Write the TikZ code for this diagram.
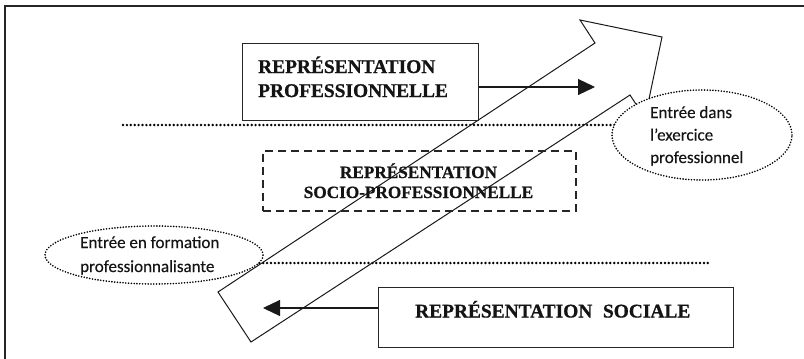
\documentclass[tikz,border=0pt]{standalone}
\usepackage{fontspec}
\setmainfont{Liberation Serif}[BoldFeatures={FakeBold=0.8}]
\newfontfamily\sansf{Carlito}[FakeBold=0.3]
\usetikzlibrary{shapes.geometric,arrows.meta,backgrounds}
\begin{document}
\begin{tikzpicture}[x=1pt,y=-1pt,
  frame/.style={line width=2.2pt,draw=black!85},
  solidbox/.style={draw=black!85,line width=1.4pt,rectangle,inner sep=0pt},
  dashbox/.style={draw=black!85,line width=1.7pt,dash pattern=on 8pt off 5pt,rectangle,inner sep=0pt},
  dotline/.style={draw=black,line width=2.7pt,line cap=round,dash pattern=on 0pt off 3.9pt},
  dotellipse/.style={ellipse,draw=black,line width=1.8pt,line cap=round,dash pattern=on 0pt off 2.8pt,fill=white,inner sep=0pt},
  bigtext/.style={font=\fontsize{19.4}{24}\selectfont\bfseries,text=black!92,inner sep=0pt},
  midtext/.style={font=\fontsize{17.2}{20}\selectfont\bfseries,text=black!92,inner sep=0pt},
  sanstext/.style={font=\sansf\fontsize{17}{22.5}\selectfont,text=black!92,inner sep=0pt},
  sanstextb/.style={sanstext,font=\sansf\fontsize{17}{24}\selectfont},
  conn/.style={draw=black!90,line width=1.2pt,-{Triangle[length=17pt,width=16pt]}},
  bigarrow/.style={draw=black!90,line width=1pt,line join=miter}
]
\useasboundingbox (0,0) rectangle (804,359);
% outer frame
\draw[frame] (5,380) -- (5,6) -- (820,6);

% boxes
\node[solidbox,minimum width=236pt,minimum height=77pt,anchor=north west] (pro) at (242,43) {};
\node[bigtext,align=left,anchor=base west] (protxt) at (258,97) {REPRÉSENTATION\\PROFESSIONNELLE};

\node[dashbox,minimum width=313pt,minimum height=60pt,anchor=north west] (socio) at (262,150) {};
\node[midtext,align=center,anchor=base] (sociotxt) at (418.5,198) {REPRÉSENTATION\\SOCIO-PROFESSIONNELLE};

\node[solidbox,minimum width=355pt,minimum height=60pt,anchor=north west] (soc) at (378,287) {};
\node[bigtext,anchor=base west] (soctxt) at (415,317.5) {REPRÉSENTATION\hspace{0.55em}SOCIALE};

% ellipses (filled white, cover what lies behind them)
\node[dotellipse,minimum width=180pt,minimum height=90pt] (e2) at (702,135) {};
\node[dotellipse,minimum width=218pt,minimum height=58pt] (e1) at (154,255) {};
\node[sanstext,align=left,anchor=base west] (e2txt) at (650,163) {Entrée dans\\l’exercice\\professionnel};
\node[sanstextb,align=left,anchor=base west] (e1txt) at (80,272) {Entrée en formation\\professionnalisante};

\begin{scope}[on background layer]
  % dotted separator lines
  \coordinate (d1s) at (123,125);
  \coordinate (d2e) at (710,263);
  \draw[dotline] (d1s) -- (d1s -| e2.center);
  \draw[dotline] (e1.center |- d2e) -- (d2e);
  % big hollow arrow
  \draw[bigarrow] (218,292) -- (595,43) -- (580,20) -- (662,37) -- (645,118) -- (630,95) -- (251,342) -- cycle;
\end{scope}

% connectors
\coordinate (a1) at (595,87);
\coordinate (a2) at (263,308);
\draw[conn] (pro.east |- a1) -- (a1);
\draw[conn] (soc.west |- a2) -- (a2);
\end{tikzpicture}
\end{document}
